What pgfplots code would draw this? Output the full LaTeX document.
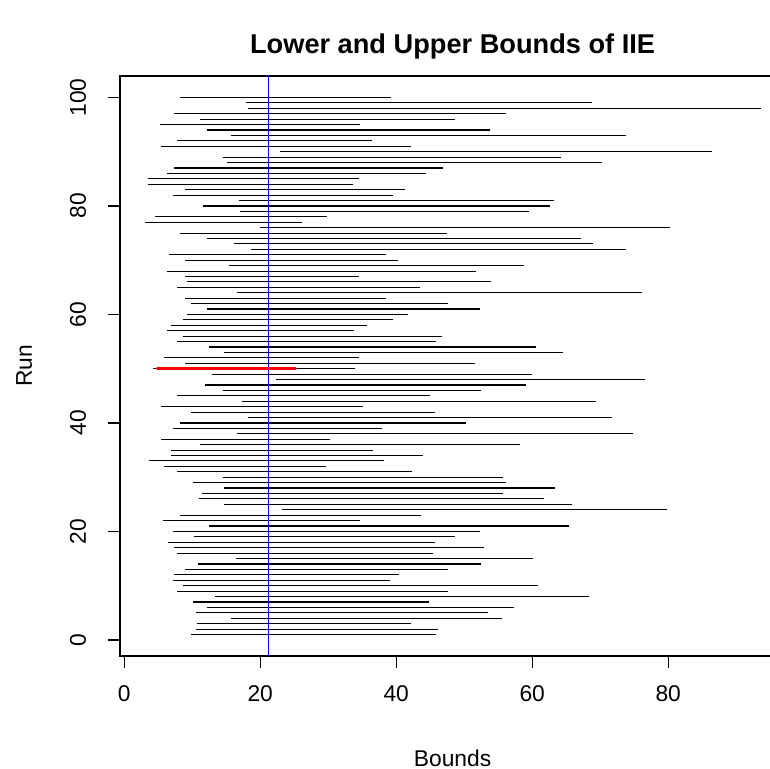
\documentclass[border=0pt]{standalone}
\usepackage{fontspec}
\setmainfont{Liberation Sans}
\usepackage{pgfplots}
\usepackage{pgfplotstable}
\pgfplotsset{compat=1.18}
\pgfplotstableread{
run lo hi
1 9.83 45.82
2 10.52 46.07
3 10.70 42.13
4 15.77 55.52
5 10.52 53.52
6 12.21 57.28
7 10.08 44.76
8 13.33 68.29
9 7.82 47.64
10 8.70 60.78
11 7.20 39.06
12 7.39 40.38
13 8.95 47.64
14 10.89 52.46
15 16.46 60.16
16 7.82 45.45
17 7.39 52.90
18 6.51 45.63
19 10.27 48.70
20 7.20 52.27
21 12.46 65.41
22 5.70 34.68
23 8.14 43.69
24 23.22 79.87
25 14.65 65.85
26 10.95 61.66
27 11.39 55.77
28 14.65 63.41
29 10.08 56.21
30 14.46 55.77
31 7.82 42.38
32 5.88 29.61
33 3.69 38.18
34 6.95 43.88
35 6.82 36.62
36 11.14 58.22
37 5.45 30.30
38 16.59 74.87
39 7.20 37.93
40 8.26 50.27
41 18.22 71.74
42 9.83 45.63
43 5.45 35.18
44 17.34 69.36
45 7.70 44.95
46 14.46 52.46
47 11.83 59.03
48 22.35 76.62
49 12.90 59.91
50 4.19 33.99
51 8.95 51.52
52 5.88 34.49
53 14.65 64.54
54 12.52 60.53
55 7.82 45.82
56 8.58 46.76
57 6.32 33.80
58 6.82 35.74
59 8.70 39.56
60 9.20 41.69
61 12.21 52.27
62 9.83 47.57
63 8.95 38.44
64 16.59 76.12
65 7.82 43.51
66 9.26 53.96
67 8.95 34.49
68 6.32 51.77
69 15.34 58.78
70 8.95 40.19
71 6.57 38.44
72 18.65 73.74
73 16.21 68.92
74 12.21 67.17
75 8.14 47.45
76 19.91 80.31
77 3.00 26.17
78 4.57 29.86
79 17.09 59.47
80 11.58 62.60
81 16.90 63.22
82 7.20 39.56
83 8.95 41.25
84 3.44 33.62
85 3.44 34.49
86 6.32 44.32
87 7.39 46.95
88 15.09 70.23
89 14.46 64.29
90 22.97 86.45
91 5.38 42.13
92 7.82 36.43
93 15.77 73.74
94 12.21 53.77
95 5.20 34.68
96 11.14 48.70
97 7.39 56.21
98 18.22 93.58
99 17.97 68.86
100 8.26 39.25
}\bounds
\begin{document}
\begin{tikzpicture}
\begin{axis}[
  at={(0,0)}, anchor=south west,
  scale only axis,
  width=332.6pt, height=290pt,
  xmin=-0.62, xmax=97.2,
  ymin=-2.96, ymax=103.96,
  xtick={0,20,40,60,80},
  ytick={0,20,40,60,80,100},
  tick align=outside,
  tick pos=left,
  major tick length=6pt,
  axis line style={line width=0.6pt},
  every tick/.style={black, line width=0.6pt},
  /pgf/number format/assume math mode=true,
  tick label style={font=\fontsize{11.4}{13}\selectfont},
  xticklabel style={anchor=base, inner sep=0pt},
  xticklabel shift=16.7pt,
  yticklabel style={rotate=90, anchor=base, inner sep=0pt},
  yticklabel shift=11pt,
  title={Lower and Upper Bounds of IIE},
  title style={at={(axis description cs:0.5,1)}, anchor=base, yshift=5pt, inner sep=0pt, font=\bfseries\fontsize{13.6}{16}\selectfont},
  xlabel={Bounds},
  xlabel style={at={(axis description cs:0.5,0)}, anchor=base, yshift=-55.5pt, inner sep=0pt, font=\fontsize{11.4}{13}\selectfont},
  ylabel={Run},
  ylabel style={at={(axis description cs:-0.1323,0.5)}, rotate=0, anchor=base, inner sep=0pt, font=\fontsize{11.4}{13}\selectfont},
  clip=true,
]
\addplot[black, line width=0.55pt, mark=none, quiver={u=\thisrow{hi}-\thisrow{lo}, v=0}] table[x=lo, y=run] {\bounds};
\addplot[blue, line width=0.5pt, mark=none] coordinates {(21.28,-10) (21.28,110)};
\addplot[red, line width=1.75pt, line cap=round, mark=none] coordinates {(4.88,50) (25.16,50)};
\end{axis}
\pgfresetboundingbox
\useasboundingbox (-60pt,-56.5pt) rectangle (325pt,328pt);
\end{tikzpicture}
\end{document}
